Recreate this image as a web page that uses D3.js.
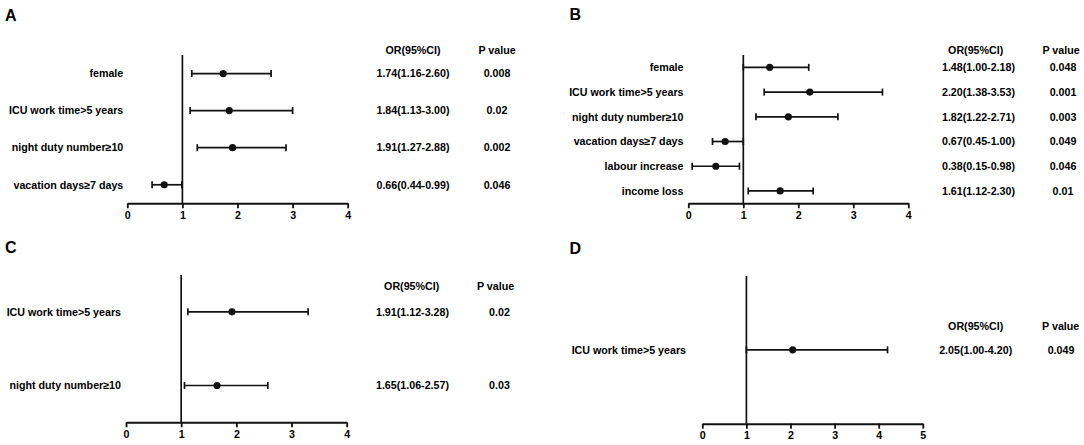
<!DOCTYPE html>
<html>
<head>
<meta charset="utf-8">
<script src="https://cdn.jsdelivr.net/npm/d3@7"></script>
<style>
  html, body { margin: 0; padding: 0; background: #fff; }
  svg { display: block; }
  text { font-family: "Liberation Sans", Arial, sans-serif; font-weight: bold; fill: #000; }
</style>
</head>
<body>
<svg id="chart" width="1084" height="445"></svg>
<script>
// ---------------- DATA ----------------
const panelLetters = ["A", "B", "C", "D"];
const orHeader = "OR(95%CI)";
const pHeader = "P value";

// Panel A
const aCategories = ["female", "ICU work time>5 years", "night duty number≥10", "vacation days≥7 days"];
const aOR   = [1.74, 1.85, 1.91, 0.67];
const aLow  = [1.17, 1.14, 1.27, 0.45];
const aHigh = [2.61, 3.00, 2.88, 0.99];
const aORText = ["1.74(1.16-2.60)", "1.84(1.13-3.00)", "1.91(1.27-2.88)", "0.66(0.44-0.99)"];
const aPText  = ["0.008", "0.02", "0.002", "0.046"];
const aTicks = [0, 1, 2, 3, 4];

// Panel B
const bCategories = ["female", "ICU work time>5 years", "night duty number≥10", "vacation days≥7 days", "labour increase", "income loss"];
const bOR   = [1.48, 2.21, 1.82, 0.67, 0.50, 1.67];
const bLow  = [1.00, 1.38, 1.23, 0.44, 0.07, 1.09];
const bHigh = [2.19, 3.53, 2.72, 1.00, 0.93, 2.27];
const bORText = ["1.48(1.00-2.18)", "2.20(1.38-3.53)", "1.82(1.22-2.71)", "0.67(0.45-1.00)", "0.38(0.15-0.98)", "1.61(1.12-2.30)"];
const bPText  = ["0.048", "0.001", "0.003", "0.049", "0.046", "0.01"];
const bTicks = [0, 1, 2, 3, 4];

// Panel C
const cCategories = ["ICU work time>5 years", "night duty number≥10"];
const cOR   = [1.92, 1.65];
const cLow  = [1.12, 1.06];
const cHigh = [3.30, 2.57];
const cORText = ["1.91(1.12-3.28)", "1.65(1.06-2.57)"];
const cPText  = ["0.02", "0.03"];
const cTicks = [0, 1, 2, 3, 4];

// Panel D
const dCategories = ["ICU work time>5 years"];
const dOR   = [2.05];
const dLow  = [1.00];
const dHigh = [4.20];
const dORText = ["2.05(1.00-4.20)"];
const dPText  = ["0.049"];
const dTicks = [0, 1, 2, 3, 4, 5];

const refValue = 1;

// ---------------- LAYOUT ----------------
const layouts = [
  {x0:127.3, x1:347.7, top:55,  bottom:203.3, labelX:123.3, orX:413,   orHeadX:413,   pX:497,  pHeadX:497,    headY:50,    letterX:5,     letterY:21},
  {x0:688.3, x1:908.3, top:55,  bottom:203.3, labelX:683.5, orX:978.5, orHeadX:975.7, pX:1063, pHeadX:1061,   headY:50,    letterX:569.5, letterY:19.5},
  {x0:126,   x1:346.7, top:275, bottom:422.3, labelX:121,   orX:412.5, orHeadX:411.7, pX:499.5,pHeadX:495.5,  headY:286.7, letterX:5,     letterY:252.5},
  {x0:702.3, x1:922.8, top:276, bottom:423.7, labelX:686,   orX:975.7, orHeadX:975.7, pX:1061, pHeadX:1060.7, headY:326,   letterX:569.5, letterY:254}
];

const panels = [
  {cats:aCategories, or:aOR, lo:aLow, hi:aHigh, orText:aORText, pText:aPText, ticks:aTicks},
  {cats:bCategories, or:bOR, lo:bLow, hi:bHigh, orText:bORText, pText:bPText, ticks:bTicks},
  {cats:cCategories, or:cOR, lo:cLow, hi:cHigh, orText:cORText, pText:cPText, ticks:cTicks},
  {cats:dCategories, or:dOR, lo:dLow, hi:dHigh, orText:dORText, pText:dPText, ticks:dTicks}
];

const FS = 10.7;
const INK = "#111";
const svg = d3.select("#chart");

panels.forEach((p, i) => {
  const L = layouts[i];
  const g = svg.append("g");
  const xMax = d3.max(p.ticks);
  const x = d3.scaleLinear().domain([0, xMax]).range([L.x0, L.x1]);
  const y = d3.scalePoint().domain(p.cats).range([L.top, L.bottom]).padding(0.5);

  // panel letter
  g.append("text").attr("x", L.letterX).attr("y", L.letterY)
    .attr("font-size", 16).text(panelLetters[i]);

  // x axis
  const ax = g.append("g").attr("transform", `translate(0,${L.bottom})`)
    .call(d3.axisBottom(x).tickValues(p.ticks).tickFormat(d3.format("d"))
      .tickSize(5).tickSizeOuter(0).tickPadding(3));
  ax.select(".domain").attr("stroke", INK).attr("stroke-width", 2);
  ax.selectAll(".tick line").attr("stroke", INK).attr("stroke-width", 1.8);
  ax.selectAll(".tick text").attr("font-size", FS)
    .attr("font-family", "'Liberation Sans', Arial, sans-serif")
    .attr("font-weight", "bold").attr("fill", "#000");

  // reference line at OR = 1
  g.append("line")
    .attr("x1", x(refValue)).attr("x2", x(refValue))
    .attr("y1", L.top).attr("y2", L.bottom)
    .attr("stroke", INK).attr("stroke-width", 1.7);

  const rows = p.cats.map((c, j) => ({c, or:p.or[j], lo:p.lo[j], hi:p.hi[j], ot:p.orText[j], pt:p.pText[j]}));

  // category labels
  g.selectAll(".lab").data(rows).enter().append("text")
    .attr("x", L.labelX).attr("y", d => y(d.c)).attr("dy", "0.35em")
    .attr("text-anchor", "end").attr("font-size", FS).text(d => d.c);

  // CI lines
  g.selectAll(".ci").data(rows).enter().append("line")
    .attr("x1", d => x(d.lo)).attr("x2", d => x(d.hi))
    .attr("y1", d => y(d.c)).attr("y2", d => y(d.c))
    .attr("stroke", INK).attr("stroke-width", 1.7);
  // caps
  ["lo", "hi"].forEach(k => {
    g.selectAll(".cap" + k).data(rows).enter().append("line")
      .attr("x1", d => x(d[k])).attr("x2", d => x(d[k]))
      .attr("y1", d => y(d.c) - 3.5).attr("y2", d => y(d.c) + 3.5)
      .attr("stroke", INK).attr("stroke-width", 1.7);
  });
  // points
  g.selectAll(".pt").data(rows).enter().append("circle")
    .attr("cx", d => x(d.or)).attr("cy", d => y(d.c)).attr("r", 3.6)
    .attr("fill", INK);

  // headers
  g.append("text").attr("x", L.orHeadX).attr("y", L.headY).attr("dy", "0.35em")
    .attr("text-anchor", "middle").attr("font-size", FS).text(orHeader);
  g.append("text").attr("x", L.pHeadX).attr("y", L.headY).attr("dy", "0.35em")
    .attr("text-anchor", "middle").attr("font-size", FS).text(pHeader);

  // OR text and p values
  g.selectAll(".ort").data(rows).enter().append("text")
    .attr("x", L.orX).attr("y", d => y(d.c)).attr("dy", "0.35em")
    .attr("text-anchor", "middle").attr("font-size", FS).text(d => d.ot);
  g.selectAll(".pv").data(rows).enter().append("text")
    .attr("x", L.pX).attr("y", d => y(d.c)).attr("dy", "0.35em")
    .attr("text-anchor", "middle").attr("font-size", FS).text(d => d.pt);
});
</script>
</body>
</html>
